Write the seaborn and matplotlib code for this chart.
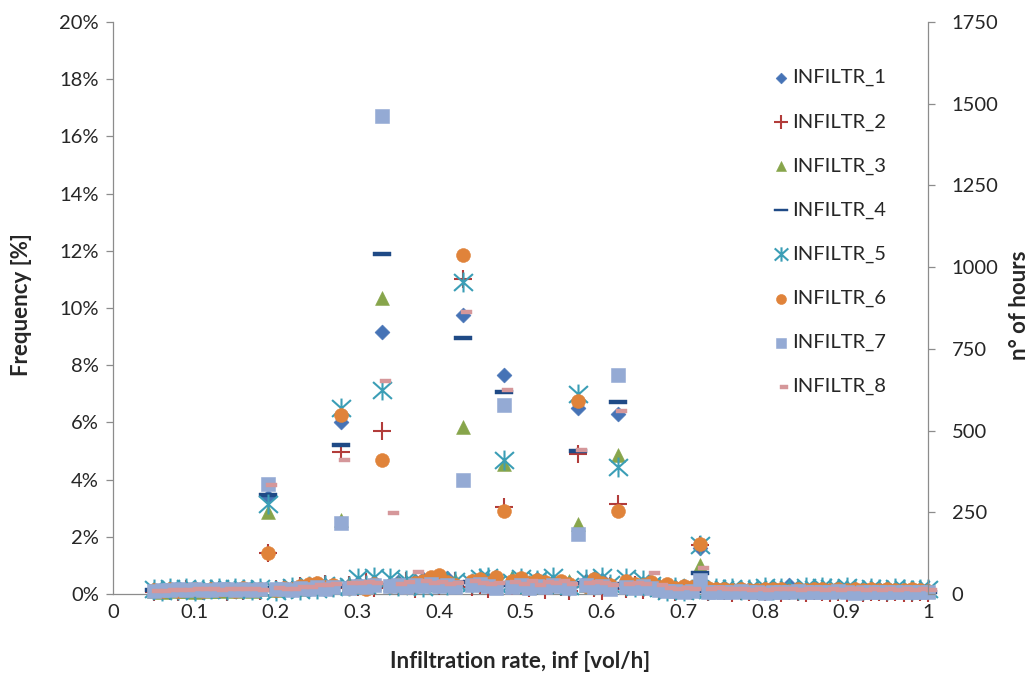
import matplotlib
matplotlib.use("Agg")
import matplotlib.pyplot as plt
from matplotlib.path import Path
from matplotlib.ticker import FuncFormatter
import seaborn as sns

sns.set_theme(style="white")
plt.rcParams['font.family'] = ['Lato', 'DejaVu Sans']

# Infiltration rate classes [vol/h]
x_rate = [0.05, 0.06, 0.07, 0.08, 0.09, 0.10, 0.11, 0.12, 0.13, 0.14,
          0.15, 0.16, 0.17, 0.18, 0.19, 0.20, 0.21, 0.22, 0.23, 0.24,
          0.25, 0.26, 0.27, 0.28, 0.29, 0.30, 0.31, 0.32, 0.33, 0.34,
          0.35, 0.36, 0.37, 0.38, 0.39, 0.40, 0.41, 0.42, 0.43, 0.44,
          0.45, 0.46, 0.47, 0.48, 0.49, 0.50, 0.51, 0.52, 0.53, 0.54,
          0.55, 0.56, 0.57, 0.58, 0.59, 0.60, 0.61, 0.62, 0.63, 0.64,
          0.65, 0.66, 0.67, 0.68, 0.69, 0.70, 0.71, 0.72, 0.73, 0.74,
          0.75, 0.76, 0.77, 0.78, 0.79, 0.80, 0.81, 0.82, 0.83, 0.84,
          0.85, 0.86, 0.87, 0.88, 0.89, 0.90, 0.91, 0.92, 0.93, 0.94,
          0.95, 0.96, 0.97, 0.98, 0.99, 1.00]

# Frequency of each class [%] for the eight infiltration scenarios
infiltr_1 = [0.12, 0.15, 0.10, 0.18, 0.14, 0.20, 0.12, 0.16, 0.19, 0.13,
             0.17, 0.11, 0.21, 0.15, 3.40, 0.18, 0.14, 0.22, 0.25, 0.19,
             0.28, 0.31, 0.24, 6.00, 0.33, 0.38, 0.29, 0.42, 9.15, 0.35,
             0.41, 0.36, 0.47, 0.52, 0.39, 0.44, 0.55, 0.31, 9.75, 0.43,
             0.37, 0.48, 0.33, 7.65, 0.40, 0.46, 0.35, 0.51, 0.29, 0.42,
             0.38, 0.33, 6.50, 0.45, 0.36, 0.49, 0.31, 6.30, 0.40, 0.27,
             0.34, 0.22, 0.29, 0.18, 0.25, 0.16, 0.21, 1.60, 0.14, 0.19,
             0.11, 0.16, 0.13, 0.09, 0.15, 0.12, 0.18, 0.10, 0.30, 0.14,
             0.12, 0.17, 0.09, 0.13, 0.20, 0.11, 0.15, 0.08, 0.12, 0.16,
             0.10, 0.13, 0.07, 0.11, 0.09, 0.12]
infiltr_2 = [0.08, 0.14, 0.11, 0.06, 0.16, 0.12, 0.09, 0.18, 0.13, 0.07,
             0.15, 0.10, 0.19, 0.12, 1.45, 0.16, 0.21, 0.13, 0.27, 0.18,
             0.24, 0.35, 0.20, 4.95, 0.30, 0.26, 0.41, 0.22, 5.70, 0.33,
             0.28, 0.45, 0.19, 0.38, 0.50, 0.27, 0.36, 0.44, 11.00, 0.25,
             0.33, 0.18, 0.40, 3.05, 0.29, 0.47, 0.21, 0.36, 0.15, 0.31,
             0.26, 0.12, 4.90, 0.34, 0.20, 0.09, 0.28, 3.15, 0.17, 0.30,
             0.14, 0.22, 0.11, 0.19, 0.08, 0.16, 0.10, 1.70, 0.07, 0.13,
             0.09, 0.05, 0.12, 0.08, 0.11, 0.06, 0.10, 0.04, 0.09, 0.07,
             0.05, 0.10, 0.06, 0.03, 0.08, 0.05, 0.09, 0.04, 0.07, 0.06,
             0.04, 0.08, 0.05, 0.03, 0.06, 0.04]
infiltr_3 = [0.10, 0.07, 0.13, 0.09, 0.12, 0.08, 0.14, 0.11, 0.09, 0.13,
             0.10, 0.15, 0.12, 0.16, 2.85, 0.14, 0.19, 0.23, 0.17, 0.26,
             0.21, 0.30, 0.27, 2.60, 0.35, 0.31, 0.25, 0.39, 10.35, 0.34,
             0.40, 0.29, 0.46, 0.37, 0.51, 0.43, 0.33, 0.48, 5.85, 0.39,
             0.55, 0.42, 0.50, 4.55, 0.58, 0.44, 0.36, 0.52, 0.41, 0.47,
             0.38, 0.45, 2.45, 0.33, 0.40, 0.29, 0.36, 4.85, 0.31, 0.26,
             0.35, 0.24, 0.30, 0.19, 0.27, 0.21, 0.17, 1.00, 0.15, 0.20,
             0.13, 0.17, 0.11, 0.15, 0.12, 0.18, 0.10, 0.14, 0.16, 0.12,
             0.19, 0.13, 0.15, 0.11, 0.17, 0.20, 0.14, 0.12, 0.16, 0.10,
             0.13, 0.11, 0.15, 0.09, 0.12, 0.10]
infiltr_4 = [0.15, 0.11, 0.17, 0.13, 0.09, 0.16, 0.12, 0.18, 0.10, 0.14,
             0.19, 0.12, 0.16, 0.21, 3.45, 0.15, 0.20, 0.17, 0.24, 0.22,
             0.27, 0.23, 0.32, 5.20, 0.29, 0.36, 0.26, 0.33, 11.90, 0.30,
             0.37, 0.42, 0.34, 0.45, 0.39, 0.31, 0.47, 0.36, 8.95, 0.41,
             0.35, 0.44, 0.38, 7.05, 0.32, 0.40, 0.46, 0.34, 0.39, 0.30,
             0.43, 0.28, 5.00, 0.37, 0.33, 0.41, 0.26, 6.70, 0.35, 0.29,
             0.24, 0.31, 0.20, 0.26, 0.17, 0.22, 0.15, 0.75, 0.12, 0.16,
             0.10, 0.13, 0.08, 0.14, 0.11, 0.09, 0.15, 0.12, 0.07, 0.13,
             0.10, 0.08, 0.12, 0.14, 0.09, 0.11, 0.07, 0.13, 0.10, 0.08,
             0.12, 0.09, 0.11, 0.07, 0.10, 0.08]
infiltr_5 = [0.18, 0.12, 0.20, 0.15, 0.22, 0.11, 0.19, 0.16, 0.21, 0.13,
             0.20, 0.17, 0.14, 0.22, 3.15, 0.12, 0.18, 0.25, 0.15, 0.28,
             0.19, 0.31, 0.24, 6.50, 0.27, 0.55, 0.33, 0.58, 7.15, 0.56,
             0.29, 0.48, 0.35, 0.26, 0.41, 0.50, 0.32, 0.44, 10.90, 0.37,
             0.57, 0.60, 0.34, 4.70, 0.42, 0.55, 0.30, 0.48, 0.39, 0.58,
             0.33, 0.27, 7.00, 0.52, 0.31, 0.58, 0.36, 4.45, 0.56, 0.25,
             0.49, 0.30, 0.21, 0.12, 0.24, 0.09, 0.18, 1.70, 0.14, 0.20,
             0.16, 0.22, 0.13, 0.19, 0.17, 0.24, 0.14, 0.21, 0.18, 0.15,
             0.23, 0.17, 0.26, 0.20, 0.16, 0.24, 0.19, 0.14, 0.22, 0.18,
             0.15, 0.21, 0.17, 0.13, 0.19, 0.16]
infiltr_6 = [0.14, 0.10, 0.17, 0.12, 0.15, 0.19, 0.11, 0.16, 0.13, 0.18,
             0.12, 0.20, 0.15, 0.17, 1.45, 0.14, 0.22, 0.19, 0.28, 0.35,
             0.40, 0.26, 0.31, 6.25, 0.22, 0.29, 0.18, 0.34, 4.70, 0.27,
             0.32, 0.23, 0.38, 0.45, 0.58, 0.65, 0.41, 0.33, 11.85, 0.47,
             0.52, 0.39, 0.60, 2.90, 0.44, 0.55, 0.37, 0.49, 0.41, 0.30,
             0.46, 0.35, 6.75, 0.28, 0.51, 0.40, 0.33, 2.90, 0.45, 0.36,
             0.30, 0.42, 0.26, 0.34, 0.22, 0.29, 0.24, 1.75, 0.20, 0.16,
             0.18, 0.14, 0.19, 0.15, 0.13, 0.18, 0.16, 0.17, 0.12, 0.18,
             0.15, 0.19, 0.16, 0.13, 0.18, 0.15, 0.19, 0.14, 0.17, 0.15,
             0.16, 0.13, 0.15, 0.18, 0.14, 0.12]
infiltr_7 = [0.12, 0.15, 0.13, 0.16, 0.14, 0.17, 0.15, 0.13, 0.16, 0.18,
             0.14, 0.17, 0.15, 0.19, 3.85, 0.16, 0.18, 0.14, 0.20, 0.17,
             0.23, 0.19, 0.26, 2.50, 0.22, 0.28, 0.25, 0.31, 16.70, 0.27,
             0.30, 0.24, 0.33, 0.29, 0.36, 0.27, 0.31, 0.25, 4.00, 0.30,
             0.34, 0.28, 0.22, 6.60, 0.26, 0.32, 0.20, 0.29, 0.24, 0.31,
             0.27, 0.21, 2.10, 0.30, 0.23, 0.28, 0.19, 7.65, 0.25, 0.22,
             0.28, 0.20, 0.14, 0.10, 0.12, 0.08, 0.11, 0.50, 0.08, 0.07,
             0.08, 0.06, 0.09, 0.07, 0.08, 0.05, 0.07, 0.08, 0.06, 0.09,
             0.07, 0.08, 0.06, 0.07, 0.09, 0.07, 0.05, 0.08, 0.07, 0.06,
             0.08, 0.07, 0.06, 0.08, 0.07, 0.06]
infiltr_8 = [0.10, 0.12, 0.14, 0.13, 0.15, 0.17, 0.16, 0.18, 0.15, 0.17,
             0.19, 0.18, 0.16, 0.15, 3.80, 0.20, 0.17, 0.19, 0.24, 0.26,
             0.33, 0.30, 0.35, 4.70, 0.40, 0.37, 0.43, 0.39, 7.45, 2.83,
             0.36, 0.41, 0.78, 0.45, 0.38, 0.42, 0.35, 0.40, 9.85, 0.46,
             0.39, 0.34, 0.37, 7.15, 0.42, 0.36, 0.44, 0.33, 0.41, 0.38,
             0.45, 0.35, 5.05, 0.40, 0.43, 0.37, 0.32, 6.40, 0.36, 0.39,
             0.34, 0.75, 0.31, 0.21, 0.19, 0.22, 0.18, 0.90, 0.17, 0.20,
             0.18, 0.16, 0.19, 0.15, 0.17, 0.14, 0.18, 0.16, 0.17, 0.15,
             0.16, 0.18, 0.15, 0.17, 0.14, 0.16, 0.18, 0.15, 0.17, 0.14,
             0.16, 0.15, 0.17, 0.14, 0.16, 0.15]

series_names = ["INFILTR_1", "INFILTR_2", "INFILTR_3", "INFILTR_4",
                "INFILTR_5", "INFILTR_6", "INFILTR_7", "INFILTR_8"]
series_values = [infiltr_1, infiltr_2, infiltr_3, infiltr_4,
                 infiltr_5, infiltr_6, infiltr_7, infiltr_8]

freq_ticks = [0, 2, 4, 6, 8, 10, 12, 14, 16, 18, 20]
hour_ticks = [0, 250, 500, 750, 1000, 1250, 1500, 1750]
rate_ticks = [0, 0.1, 0.2, 0.3, 0.4, 0.5, 0.6, 0.7, 0.8, 0.9, 1.0]

# Marker shapes
asterisk = Path([(0, -1), (0, 1), (-0.95, -0.85), (0.95, 0.85),
                 (-0.95, 0.85), (0.95, -0.85)],
                [Path.MOVETO, Path.LINETO, Path.MOVETO, Path.LINETO,
                 Path.MOVETO, Path.LINETO])
long_dash = Path([(-1, -0.18), (1, -0.18), (1, 0.18), (-1, 0.18), (-1, -0.18)],
                 [Path.MOVETO, Path.LINETO, Path.LINETO, Path.LINETO,
                  Path.CLOSEPOLY])
short_dash = Path([(-0.16, -0.26), (1, -0.26), (1, 0.26), (-0.16, 0.26),
                   (-0.16, -0.26)],
                  [Path.MOVETO, Path.LINETO, Path.LINETO, Path.LINETO,
                   Path.CLOSEPOLY])

styles = [
    dict(marker="D", color="#4673B6", s=58, linewidth=0.4),
    dict(marker="+", color="#B23C3A", s=185, linewidth=1.5),
    dict(marker="^", color="#87A54B", s=100, linewidth=0.4),
    dict(marker=long_dash, color="#1F4A86", s=185, linewidth=0.3),
    dict(marker=asterisk, color="#3B9EB6", s=205, linewidth=1.5),
    dict(marker="o", color="#E0833A", s=100, linewidth=0.4),
    dict(marker="s", color="#94AAD4", s=100, linewidth=0.4),
    dict(marker=short_dash, color="#D5979A", s=185, linewidth=0.3),
]

W, H = 1034, 677
fig = plt.figure(figsize=(W / 100, H / 100), dpi=100)
ax = fig.add_axes([113 / W, 83 / H, 815 / W, 572 / H])

for name, vals, st in zip(series_names, series_values, styles):
    sns.scatterplot(x=x_rate, y=vals, ax=ax, marker=st["marker"],
                    color=st["color"], edgecolor=st["color"], s=st["s"],
                    linewidth=st["linewidth"], label=name, clip_on=False,
                    zorder=3)

grey = "#8C8C8C"
text_col = "#262626"
tick_size = 14.5
label_size = 16

ax.set_xlim(0, 1)
ax.set_ylim(0, 20)
ax.set_xticks(rate_ticks)
ax.set_yticks(freq_ticks)
ax.xaxis.set_major_formatter(FuncFormatter(lambda v, p: f"{v:g}"))
ax.yaxis.set_major_formatter(FuncFormatter(lambda v, p: f"{v:.0f}%"))
ax.tick_params(axis="both", direction="out", length=5, width=0.9,
               color=grey, labelsize=tick_size, labelcolor=text_col, pad=5)
ax.tick_params(axis="x", pad=2)
for side in ["top", "right"]:
    ax.spines[side].set_visible(False)
for side in ["left", "bottom"]:
    ax.spines[side].set_color(grey)
    ax.spines[side].set_linewidth(0.9)

ax2 = ax.twinx()
ax2.set_ylim(0, 1750)
ax2.set_yticks(hour_ticks)
ax2.tick_params(axis="y", direction="out", length=5, width=0.9, color=grey,
                labelsize=tick_size, labelcolor=text_col, pad=12)
for side in ["top", "left", "bottom"]:
    ax2.spines[side].set_visible(False)
ax2.spines["right"].set_color(grey)
ax2.spines["right"].set_linewidth(0.9)

# Axis titles
fig.text(520 / W, 1 - 662 / H, "Infiltration rate, inf [vol/h]",
         fontsize=label_size, fontweight="bold", color=text_col,
         ha="center", va="center")
fig.text(22 / W, 1 - 305 / H, "Frequency [%]", fontsize=label_size,
         fontweight="bold", color=text_col, rotation=90,
         ha="center", va="center")
fig.text(1019 / W, 1 - 305 / H, "n° of hours", fontsize=label_size,
         fontweight="bold", color=text_col, rotation=90,
         ha="center", va="center")

handles, labels = ax.get_legend_handles_labels()
leg = ax.legend(handles, labels, loc="upper left",
                bbox_to_anchor=(765 / W, 1 - 59 / H),
                bbox_transform=fig.transFigure, frameon=False,
                fontsize=14.5, labelspacing=1.33, handlelength=0.6,
                handletextpad=0.25, borderpad=0, markerscale=0.72)
for t in leg.get_texts():
    t.set_color(text_col)

fig.savefig("out.png", dpi=100)
